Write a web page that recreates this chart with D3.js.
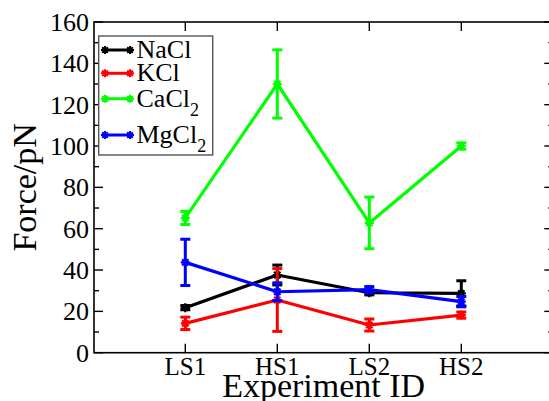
<!DOCTYPE html>
<html>
<head>
<meta charset="utf-8">
<script src="https://cdn.jsdelivr.net/npm/d3@7"></script>
<style>
  html, body { margin: 0; padding: 0; background: #fff; }
  svg { display: block; }
  text { font-family: "Liberation Serif", "DejaVu Serif", serif; fill: #000; }
</style>
</head>
<body>
<svg id="chart" width="549" height="401"></svg>
<script>
// Experiment IDs along the x axis
const categories = ["LS1", "HS1", "LS2", "HS2"];

// Mean force (pN) and error for each salt
const nacl     = [21.8, 37.6, 29.0, 28.7];
const naclErr  = [1.0, 4.8, 1.0, 6.1];
const kcl      = [14.2, 25.5, 13.4, 18.2];
const kclErr   = [3.0, 15.2, 2.9, 1.5];
const cacl2    = [65.2, 130.0, 62.8, 100.0];
const cacl2Err = [3.2, 16.5, 12.5, 1.5];
const mgcl2    = [43.7, 29.5, 30.5, 24.7];
const mgcl2Err = [11.2, 4.3, 1.5, 2.5];

const yTicks = [0, 20, 40, 60, 80, 100, 120, 140, 160];
const yMinorTicks = [10, 30, 50, 70, 90, 110, 130, 150];

const series = [
  { name: "NaCl", base: "NaCl", sub: "",  color: "#000000", values: nacl,  errors: naclErr },
  { name: "KCl",  base: "KCl",  sub: "",  color: "#ff0000", values: kcl,   errors: kclErr },
  { name: "CaCl2", base: "CaCl", sub: "2", color: "#00ff00", values: cacl2, errors: cacl2Err },
  { name: "MgCl2", base: "MgCl", sub: "2", color: "#0000ff", values: mgcl2, errors: mgcl2Err }
];

const svg = d3.select("#chart");
const plotL = 94, plotT = 22, plotB = 352.7, plotR = 553.3;

const x = d3.scaleLinear().domain([0, categories.length + 1]).range([93.3, plotR]);
const y = d3.scaleLinear().domain([0, 160]).range([plotB, plotT]);

// Asterisk-shaped point marker
const star = (cx, cy, r) => {
  let p = "";
  for (let k = 0; k < 4; k++) {
    const a = k * Math.PI / 4;
    const dx = r * Math.cos(a), dy = r * Math.sin(a);
    p += `M${cx - dx},${cy - dy}L${cx + dx},${cy + dy}`;
  }
  return p;
};

// Data series: lines, error bars, markers
const plot = svg.append("g");
series.forEach(s => {
  const g = plot.append("g");
  const pts = s.values.map((v, i) => ({ xi: i + 1, v, e: s.errors[i] }));
  g.append("path")
    .datum(pts)
    .attr("fill", "none")
    .attr("stroke", s.color)
    .attr("stroke-width", 3.2)
    .attr("stroke-linejoin", "round")
    .attr("d", d3.line().x(d => x(d.xi)).y(d => y(d.v)));
  const eb = g.selectAll(".eb").data(pts).enter().append("g");
  eb.append("line")
    .attr("x1", d => x(d.xi)).attr("x2", d => x(d.xi))
    .attr("y1", d => y(d.v - d.e)).attr("y2", d => y(d.v + d.e))
    .attr("stroke", s.color).attr("stroke-width", 3);
  [-1, 1].forEach(sg => {
    eb.append("line")
      .attr("x1", d => x(d.xi) - 5).attr("x2", d => x(d.xi) + 5)
      .attr("y1", d => y(d.v + sg * d.e)).attr("y2", d => y(d.v + sg * d.e))
      .attr("stroke", s.color).attr("stroke-width", 3);
  });
  eb.append("path")
    .attr("d", d => star(x(d.xi), y(d.v), 4.5))
    .attr("stroke", s.color).attr("stroke-width", 2.2).attr("fill", "none");
});

// Frame
svg.append("rect")
  .attr("x", plotL).attr("y", plotT)
  .attr("width", plotR - plotL).attr("height", plotB - plotT)
  .attr("fill", "none").attr("stroke", "#000").attr("stroke-width", 1.6);

const ticks = svg.append("g").attr("stroke", "#000").attr("stroke-width", 1.4);
// y ticks, left and right, pointing inward
yTicks.forEach(v => {
  ticks.append("line").attr("x1", plotL).attr("x2", plotL + 9).attr("y1", y(v)).attr("y2", y(v));
  ticks.append("line").attr("x1", plotR).attr("x2", plotR - 9).attr("y1", y(v)).attr("y2", y(v));
});
yMinorTicks.forEach(v => {
  ticks.append("line").attr("x1", plotL).attr("x2", plotL + 5).attr("y1", y(v)).attr("y2", y(v));
  ticks.append("line").attr("x1", plotR).attr("x2", plotR - 5).attr("y1", y(v)).attr("y2", y(v));
});
// x ticks, bottom and top
categories.forEach((c, i) => {
  ticks.append("line").attr("x1", x(i + 1)).attr("x2", x(i + 1)).attr("y1", plotB).attr("y2", plotB - 9);
  ticks.append("line").attr("x1", x(i + 1)).attr("x2", x(i + 1)).attr("y1", plotT).attr("y2", plotT + 9);
});

// Tick labels
svg.append("g").selectAll("text").data(yTicks).enter().append("text")
  .attr("x", 89).attr("y", d => y(d)).attr("dy", "0.35em")
  .attr("text-anchor", "end").attr("font-size", 26).text(d => d);
svg.append("g").selectAll("text").data(categories).enter().append("text")
  .attr("x", (d, i) => x(i + 1)).attr("y", 375)
  .attr("text-anchor", "middle").attr("font-size", 25).text(d => d);

// Axis titles
svg.append("text")
  .attr("x", (plotL + plotR) / 2).attr("y", 397)
  .attr("text-anchor", "middle").attr("font-size", 34).text("Experiment ID");
svg.append("text")
  .attr("transform", `translate(36,${(plotT + plotB) / 2}) rotate(-90)`)
  .attr("text-anchor", "middle").attr("font-size", 34).text("Force/pN");

// Legend
const legend = svg.append("g");
legend.append("rect")
  .attr("x", 98.7).attr("y", 36).attr("width", 114).attr("height", 119)
  .attr("fill", "#fff").attr("stroke", "#555").attr("stroke-width", 1.4);
const rowY = [50, 73.3, 98.7, 135];
series.forEach((s, i) => {
  const ly = rowY[i];
  legend.append("line").attr("x1", 105).attr("x2", 130)
    .attr("y1", ly).attr("y2", ly).attr("stroke", s.color).attr("stroke-width", 3);
  [105, 130].forEach(px => legend.append("path")
    .attr("d", star(px, ly, 4)).attr("stroke", s.color).attr("stroke-width", 2).attr("fill", "none"));
  const t = legend.append("text").attr("x", 136.5).attr("y", ly + 8).attr("font-size", 26);
  t.append("tspan").text(s.base);
  if (s.sub) t.append("tspan").attr("font-size", 18).attr("dy", 9).text(s.sub);
});
</script>
</body>
</html>
